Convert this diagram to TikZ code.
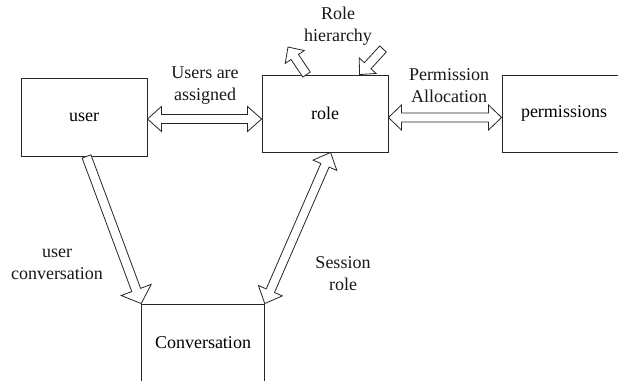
\documentclass[tikz,border=0pt]{standalone}
\usepackage{fontspec}
\setmainfont{Liberation Serif}
\usetikzlibrary{calc}

% direction and length from one named point to another (canvas units)
\newcommand\getvec[2]{%
  \path let \p1=(#1), \p2=(#2) in
    \pgfextra{\pgfmathsetmacro\tmpang{atan2(\y2-\y1,\x2-\x1)}%
              \pgfmathsetmacro\tmplen{veclen(\x2-\x1,\y2-\y1)}%
              \xdef\arrang{\tmpang}\xdef\arrlen{\tmplen}};}

% hollow block arrow with one head: tail, tip, shaft half width, head half width, head length
\newcommand\onewayarrow[5]{%
  \getvec{#1}{#2}%
  \begin{scope}[shift={(#1)}, rotate=\arrang]
    \draw[blockline] (0,#3) -- ({\arrlen-#5},#3) -- ({\arrlen-#5},#4) -- (\arrlen,0)
      -- ({\arrlen-#5},-#4) -- ({\arrlen-#5},-#3) -- (0,-#3) -- cycle;
  \end{scope}}

% hollow block arrow with a head at both ends
\newcommand\twowayarrow[5]{%
  \getvec{#1}{#2}%
  \begin{scope}[shift={(#1)}, rotate=\arrang]
    \draw[blockline] (0,0) -- (#5,#4) -- (#5,#3) -- ({\arrlen-#5},#3) -- ({\arrlen-#5},#4)
      -- (\arrlen,0) -- ({\arrlen-#5},-#4) -- ({\arrlen-#5},-#3) -- (#5,-#3) -- (#5,-#4) -- cycle;
  \end{scope}}

\tikzset{
  box/.style={draw=black!85, line width=0.9pt, rectangle, inner sep=0pt},
  blockline/.style={draw=black!85, line width=0.8pt, fill=white, line join=miter},
  lbl/.style={align=center, inner sep=0pt, text=black!90},
}

\begin{document}
\begin{tikzpicture}[x=1pt, y=-1pt, font=\fontsize{18}{22}\selectfont]
  \useasboundingbox (0,0) rectangle (618,380);
  \clip (0,0) rectangle (618,380);
  \fill[white] (0,0) rectangle (618,380);

  % entity boxes
  \node[box, minimum width=126pt, minimum height=78pt] (user) at (84,117) {user};
  \node[box, minimum width=126pt, minimum height=77pt] (role) at (325,113.5) {role};
  \node[box, minimum width=124pt, minimum height=77pt] (perm) at (564,113.5) {permissions};
  \node[box, minimum width=122.6pt, minimum height=78pt] (conv) at (203,343) {Conversation};

  % labels
  \node[lbl] (lua) at (205,86) {Users are\\assigned};
  \node[lbl] (lrh) at (338,26) {Role\\hierarchy};
  \node[lbl] (lpa) at (449,86) {Permission\\Allocation};
  \node[lbl] (luc) at (57,264) {user\\conversation};
  \node[lbl] (lsr) at (343,274) {Session\\role};

  % arrow end points on the boxes
  \coordinate (ub) at ($(user.south west)+(66,0)$);
  \coordinate (ue) at ($(user.east)+(0,2)$);
  \coordinate (rw) at (role.west |- ue);
  \coordinate (re) at ($(role.east)+(0,4)$);
  \coordinate (pw) at (perm.west |- re);
  \coordinate (rb) at ($(role.south west)+(69,0)$);
  \coordinate (ct) at (conv.north east);
  \coordinate (rt1) at ($(role.north west)+(45,0)$);
  \coordinate (rt1e) at (288,47);
  \coordinate (rt2) at ($(role.north west)+(98,0)$);
  \coordinate (rt2s) at (383,49);

  % connectors
  \twowayarrow{ue}{rw}{4.5}{12.5}{14}
  \twowayarrow{re}{pw}{4.5}{12.5}{13}
  \onewayarrow{ub}{conv.north west}{4.7}{16}{14.5}
  \twowayarrow{rb}{ct}{4.5}{13}{14}
  \onewayarrow{rt1}{rt1e}{4.5}{11.5}{12}
  \onewayarrow{rt2s}{rt2}{4.5}{11.5}{12}
\end{tikzpicture}
\end{document}
